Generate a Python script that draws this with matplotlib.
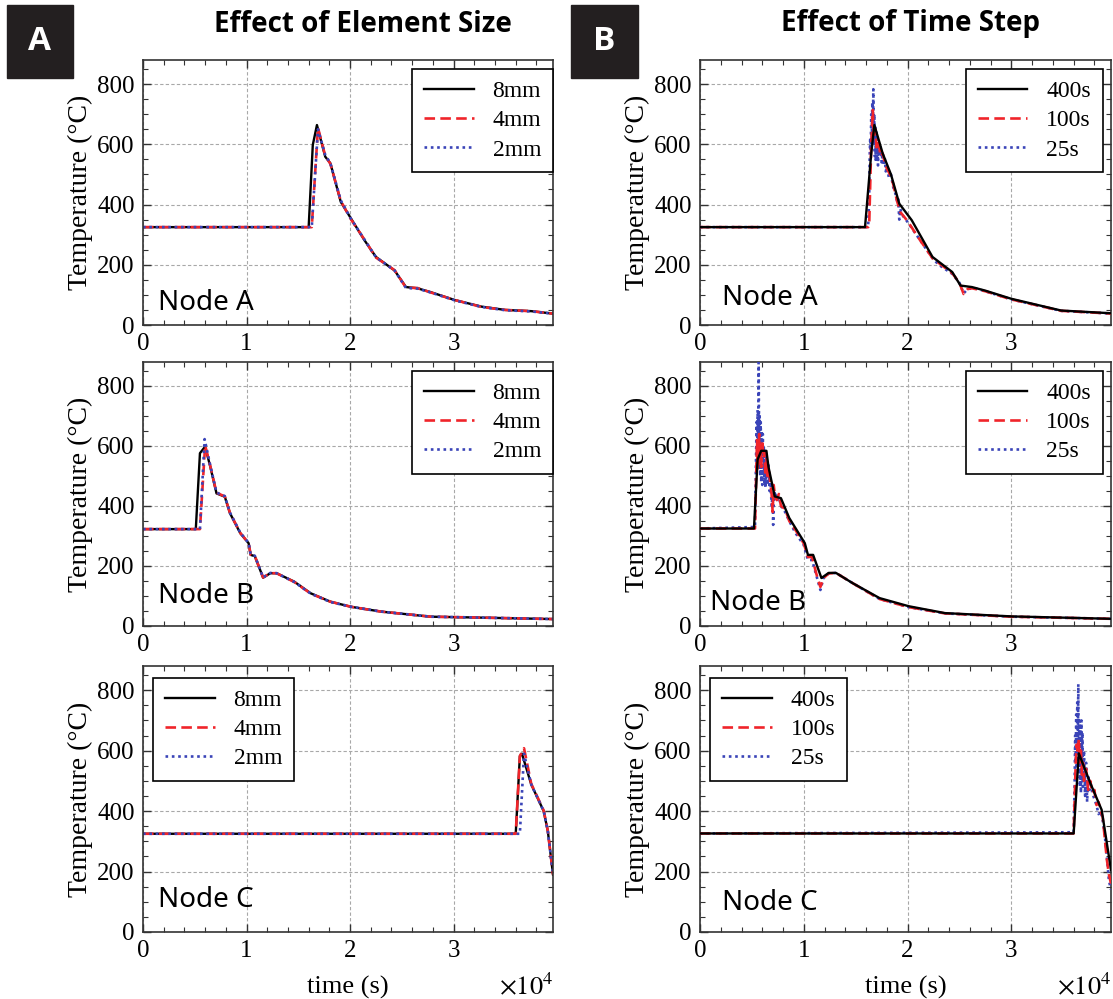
import matplotlib
matplotlib.use("Agg")
import matplotlib.pyplot as plt
from matplotlib.patches import Rectangle
from matplotlib.ticker import MultipleLocator

plt.rcParams["font.family"] = ["Liberation Serif", "DejaVu Serif"]
plt.rcParams["mathtext.fontset"] = "stix"

# time in units of 1e4 s, temperature in degC

# --- Effect of element size ---
A8_T = [0, 1.60, 1.64, 1.68, 1.76, 1.81, 1.91, 2.01, 2.14, 2.25, 2.43, 2.54, 2.65, 2.78, 3.01, 3.27, 3.50, 3.75, 3.98]
A8_V = [325, 325, 598, 664, 559, 537, 409, 353, 281, 226, 181, 126, 122, 109, 83, 61, 50, 46, 37]
A4_T = [0, 1.63, 1.69, 1.76, 1.81, 1.91, 2.01, 2.14, 2.25, 2.43, 2.54, 2.65, 2.78, 3.01, 3.27, 3.50, 3.75, 3.98]
A4_V = [325, 325, 655, 562, 535, 412, 350, 283, 224, 182, 124, 123, 108, 83, 60, 50, 46, 37]
A2_T = [0, 1.63, 1.69, 1.76, 1.81, 1.91, 2.01, 2.14, 2.25, 2.43, 2.54, 2.65, 2.78, 3.01, 3.27, 3.50, 3.75, 3.98]
A2_V = [325, 325, 650, 565, 537, 414, 352, 283, 225, 181, 123, 121, 108, 82, 60, 49, 45, 37]

B8_T = [0, 0.51, 0.55, 0.60, 0.65, 0.71, 0.79, 0.84, 0.94, 1.02, 1.04, 1.08, 1.16, 1.23, 1.29, 1.46, 1.62, 1.81, 2.01, 2.30, 2.78, 3.11, 3.98]
B8_V = [323, 323, 576, 598, 531, 442, 431, 376, 309, 276, 237, 233, 161, 176, 176, 148, 109, 81, 64, 48, 31, 29, 23]
B4_T = [0, 0.55, 0.60, 0.65, 0.71, 0.79, 0.84, 0.94, 1.02, 1.04, 1.08, 1.16, 1.23, 1.29, 1.46, 1.62, 1.81, 2.01, 2.30, 2.78, 3.11, 3.98]
B4_V = [323, 323, 602, 533, 444, 432, 377, 310, 276, 238, 233, 162, 176, 176, 147, 108, 81, 64, 48, 31, 29, 23]
B2_T = [0, 0.55, 0.595, 0.65, 0.71, 0.79, 0.84, 0.94, 1.02, 1.04, 1.08, 1.16, 1.23, 1.29, 1.46, 1.62, 1.81, 2.01, 2.30, 2.78, 3.11, 3.98]
B2_V = [323, 323, 623, 535, 445, 433, 378, 311, 277, 238, 234, 162, 177, 176, 147, 108, 80, 64, 48, 31, 29, 23]

C8_T = [0, 3.60, 3.64, 3.66, 3.75, 3.87, 3.91, 3.96]
C8_V = [325, 325, 582, 590, 488, 400, 334, 190]
C4_T = [0, 3.60, 3.64, 3.68, 3.75, 3.87, 3.91, 3.96]
C4_V = [325, 325, 582, 608, 490, 402, 334, 190]
C2_T = [0, 3.64, 3.68, 3.75, 3.87, 3.91, 3.96]
C2_V = [325, 325, 590, 488, 400, 334, 190]

# --- Effect of time step ---
RA400_T = [0, 1.59, 1.65, 1.68, 1.76, 1.84, 1.92, 2.04, 2.24, 2.43, 2.51, 2.62, 2.75, 3.00, 3.48, 3.96]
RA400_V = [325, 325, 570, 664, 570, 500, 403, 348, 226, 176, 131, 126, 114, 87, 48, 39]
RA100_T = [0, 1.62, 1.63, 1.65, 1.665, 1.675, 1.69, 1.70, 1.72, 1.74, 1.76, 1.78, 1.80, 1.83, 1.86, 1.90, 1.93,
           2.00, 2.10, 2.24, 2.43, 2.50, 2.54, 2.58, 2.62, 2.75, 3.00, 3.48, 3.96]
RA100_V = [325, 325, 330, 600, 714, 620, 650, 590, 610, 560, 570, 540, 520, 500, 470, 410, 375,
           345, 292, 222, 172, 140, 103, 120, 122, 112, 85, 47, 38]
RA25_T = [0, 1.62, 1.63, 1.635, 1.64, 1.645, 1.65, 1.655, 1.66, 1.665, 1.67, 1.675, 1.68, 1.685, 1.69, 1.695,
          1.70, 1.705, 1.71, 1.715, 1.72, 1.73, 1.74, 1.75, 1.76, 1.77, 1.78, 1.79, 1.80, 1.82, 1.84, 1.86,
          1.88, 1.90, 1.91, 1.92, 1.93, 1.95, 2.00, 2.10, 2.24, 2.30, 2.43, 2.50, 2.54, 2.58, 2.65, 2.75,
          3.00, 3.48, 3.96]
RA25_V = [325, 325, 420, 560, 620, 580, 700, 600, 740, 620, 783, 600, 700, 560, 660, 540,
          640, 560, 620, 530, 600, 560, 590, 540, 570, 530, 555, 510, 525, 490, 500, 460,
          440, 410, 420, 350, 385, 365, 342, 292, 222, 200, 170, 140, 105, 120, 122, 112,
          85, 47, 38]

RB400_T = [0, 0.52, 0.555, 0.59, 0.64, 0.66, 0.72, 0.78, 0.86, 1.01, 1.04, 1.09, 1.17, 1.24, 1.31, 1.47, 1.73, 2.01, 2.36, 3.00, 3.96]
RB400_V = [325, 325, 555, 584, 584, 530, 432, 426, 360, 276, 237, 237, 160, 177, 177, 143, 93, 66, 43, 32, 24]
RB100_T = [0, 0.53, 0.545, 0.55, 0.555, 0.56, 0.565, 0.57, 0.575, 0.58, 0.59, 0.60, 0.61, 0.62, 0.63, 0.64,
           0.65, 0.66, 0.68, 0.69, 0.70, 0.71, 0.72, 0.74, 0.76, 0.78, 0.82, 0.86, 0.92, 1.00, 1.04, 1.08,
           1.12, 1.16, 1.19, 1.24, 1.31, 1.47, 1.73, 2.01, 2.36, 3.00, 3.96]
RB100_V = [325, 325, 560, 620, 520, 600, 540, 640, 560, 600, 530, 620, 560, 580, 500, 560,
           500, 530, 470, 440, 380, 470, 440, 420, 440, 400, 390, 350, 320, 275, 230, 230,
           175, 130, 160, 175, 177, 143, 90, 63, 42, 31, 24]
RB25_T = [0, 0.53, 0.535, 0.54, 0.545, 0.55, 0.555, 0.56, 0.565, 0.57, 0.575, 0.58, 0.585, 0.59, 0.595,
          0.60, 0.605, 0.61, 0.615, 0.62, 0.625, 0.63, 0.64, 0.65, 0.66, 0.67, 0.68, 0.69, 0.70, 0.705,
          0.71, 0.72, 0.74, 0.76, 0.78, 0.82, 0.86, 0.92, 1.00, 1.04, 1.08, 1.12, 1.16, 1.19, 1.24, 1.31,
          1.47, 1.73, 2.01, 2.36, 3.00, 3.96]
RB25_V = [325, 330, 450, 560, 680, 540, 720, 600, 900, 560, 700, 500, 680, 480, 650,
          470, 640, 500, 600, 470, 580, 460, 560, 470, 540, 450, 480, 400, 440, 337,
          420, 450, 420, 430, 400, 380, 350, 310, 270, 220, 220, 170, 120, 160, 175, 177,
          143, 90, 63, 42, 31, 24]

RC400_T = [0, 3.60, 3.65, 3.76, 3.87, 3.91, 3.96]
RC400_V = [326, 326, 591, 493, 404, 316, 205]
RC100_T = [0, 3.60, 3.62, 3.63, 3.64, 3.65, 3.66, 3.67, 3.68, 3.69, 3.70, 3.72, 3.74, 3.76, 3.78, 3.80,
           3.82, 3.84, 3.86, 3.88, 3.90, 3.92, 3.94, 3.96]
RC100_V = [326, 326, 560, 620, 590, 640, 560, 600, 520, 560, 500, 540, 470, 500, 460, 470,
           420, 430, 400, 380, 310, 240, 190, 160]
RC25_T = [0, 3.60, 3.61, 3.615, 3.62, 3.625, 3.63, 3.635, 3.64, 3.645, 3.65, 3.655, 3.66, 3.665, 3.67,
          3.675, 3.68, 3.685, 3.69, 3.70, 3.71, 3.72, 3.73, 3.74, 3.75, 3.76, 3.78, 3.80, 3.82, 3.84,
          3.86, 3.88, 3.90, 3.92, 3.94, 3.96]
RC25_V = [326, 330, 500, 650, 560, 720, 540, 760, 600, 820, 520, 700, 480, 680, 460,
          700, 500, 660, 480, 600, 450, 560, 430, 520, 470, 500, 460, 440, 420, 390,
          400, 370, 320, 250, 170, 140]

SIZE_LABELS = ["8mm", "4mm", "2mm"]
STEP_LABELS = ["400s", "100s", "25s"]
NODES = ["Node A", "Node B", "Node C"]

RED = "#f0242a"
BLUE = "#3a44b8"
STYLES = [dict(color="black", lw=1.7, ls="-"),
          dict(color=RED, lw=1.9, ls=(0, (4, 2))),
          dict(color=BLUE, lw=1.9, ls=(0, (1, 1.4)))]

W, H = 1113, 999
fig = plt.figure(figsize=(W / 100, H / 100), dpi=100)

rows = [(60, 325), (362, 626), (666, 932)]
cols = [(143, 553), (700, 1111)]
LEG_KW = dict(fontsize=17, handlelength=2.1, handletextpad=0.8, labelspacing=0.32,
              borderpad=0.5, borderaxespad=0, fancybox=False, framealpha=1, edgecolor="black")
SANS = ["Noto Sans", "DejaVu Sans"]
HEAD = ["Open Sans", "DejaVu Sans"]


def make_ax(col, row):
    x0, x1 = cols[col]
    y0, y1 = rows[row]
    return fig.add_axes([x0 / W, 1 - y1 / H, (x1 - x0) / W, (y1 - y0) / H])


def style(ax, bottom):
    ax.set_xlim(0, 3.96)
    ax.set_ylim(0, 880)
    ax.set_xticks([0, 1, 2, 3])
    ax.set_yticks([0, 200, 400, 600, 800])
    ax.xaxis.set_minor_locator(MultipleLocator(0.2))
    ax.yaxis.set_minor_locator(MultipleLocator(50))
    ax.tick_params(which="both", direction="in", top=True, right=True,
                   labelsize=18, pad=6, color="#333333")
    ax.tick_params(which="major", length=6, width=1)
    ax.tick_params(which="minor", length=3.5, width=0.8)
    ax.grid(True, which="major", ls=(0, (3, 2)), color="#a8a8a8", lw=0.8)
    for s in ax.spines.values():
        s.set_linewidth(1.2)
        s.set_color("#333333")
    ax.set_ylabel("Temperature (°C)", fontsize=20, labelpad=3)
    if bottom:
        ax.set_xlabel("time (s)", fontsize=19, labelpad=10)
        ax.text(1.0, -0.235, r"$\times10^{4}$", transform=ax.transAxes,
                ha="right", va="baseline", fontsize=19)


left_data = [[(A8_T, A8_V), (A4_T, A4_V), (A2_T, A2_V)],
             [(B8_T, B8_V), (B4_T, B4_V), (B2_T, B2_V)],
             [(C8_T, C8_V), (C4_T, C4_V), (C2_T, C2_V)]]
right_data = [[(RA400_T, RA400_V), (RA100_T, RA100_V), (RA25_T, RA25_V)],
              [(RB400_T, RB400_V), (RB100_T, RB100_V), (RB25_T, RB25_V)],
              [(RC400_T, RC400_V), (RC100_T, RC100_V), (RC25_T, RC25_V)]]

node_pos_left = [(0.037, 0.057), (0.037, 0.087), (0.037, 0.094)]
node_pos_right = [(0.054, 0.075), (0.024, 0.06), (0.054, 0.083)]

for r in range(3):
    # left column: element size
    ax = make_ax(0, r)
    for (t, v), st, lab in zip(left_data[r], STYLES, SIZE_LABELS):
        ax.plot(t, v, label=lab, **st)
    style(ax, r == 2)
    ax.text(*node_pos_left[r], NODES[r], transform=ax.transAxes, fontsize=20,
            family=SANS, va="baseline")
    if r < 2:
        leg = ax.legend(loc="upper right", bbox_to_anchor=(1.0, 0.966), **LEG_KW)
    else:
        leg = ax.legend(loc="upper left", bbox_to_anchor=(0.025, 0.955), **LEG_KW)

    # right column: time step (coarse step drawn on top)
    ax2 = make_ax(1, r)
    handles = []
    for i in [2, 1, 0]:
        t, v = right_data[r][i]
        h, = ax2.plot(t, v, label=STEP_LABELS[i], zorder=3 + (2 - i), **STYLES[i])
        handles.append(h)
    handles = handles[::-1]
    style(ax2, r == 2)
    ax2.text(*node_pos_right[r], NODES[r], transform=ax2.transAxes, fontsize=20,
             family=SANS, va="baseline")
    if r < 2:
        leg2 = ax2.legend(handles=handles, loc="upper right", bbox_to_anchor=(0.98, 0.966), **LEG_KW)
    else:
        leg2 = ax2.legend(handles=handles, loc="upper left", bbox_to_anchor=(0.025, 0.955), **LEG_KW)

    for lg in (leg, leg2):
        lg.get_frame().set_linewidth(1.2)
        lg.set_zorder(10)

# panel labels and headers
for (x0, x1, letter) in [(7, 73, "A"), (571, 638, "B")]:
    fig.patches.append(Rectangle((x0 / W, 1 - 78 / H), (x1 - x0) / W, 73 / H,
                                 transform=fig.transFigure, color="#231f20", zorder=0))
    fig.text((x0 + x1) / 2 / W, 1 - 42 / H, letter, color="white", fontsize=24,
             fontweight="bold", ha="center", va="center", family=HEAD)

fig.text(363 / W, 1 - 24 / H, "Effect of Element Size", fontsize=20, fontweight="bold",
         ha="center", va="center", family=HEAD)
fig.text(911 / W, 1 - 24 / H, "Effect of Time Step", fontsize=20, fontweight="bold",
         ha="center", va="center", family=HEAD)

fig.savefig("out.png", dpi=100)
